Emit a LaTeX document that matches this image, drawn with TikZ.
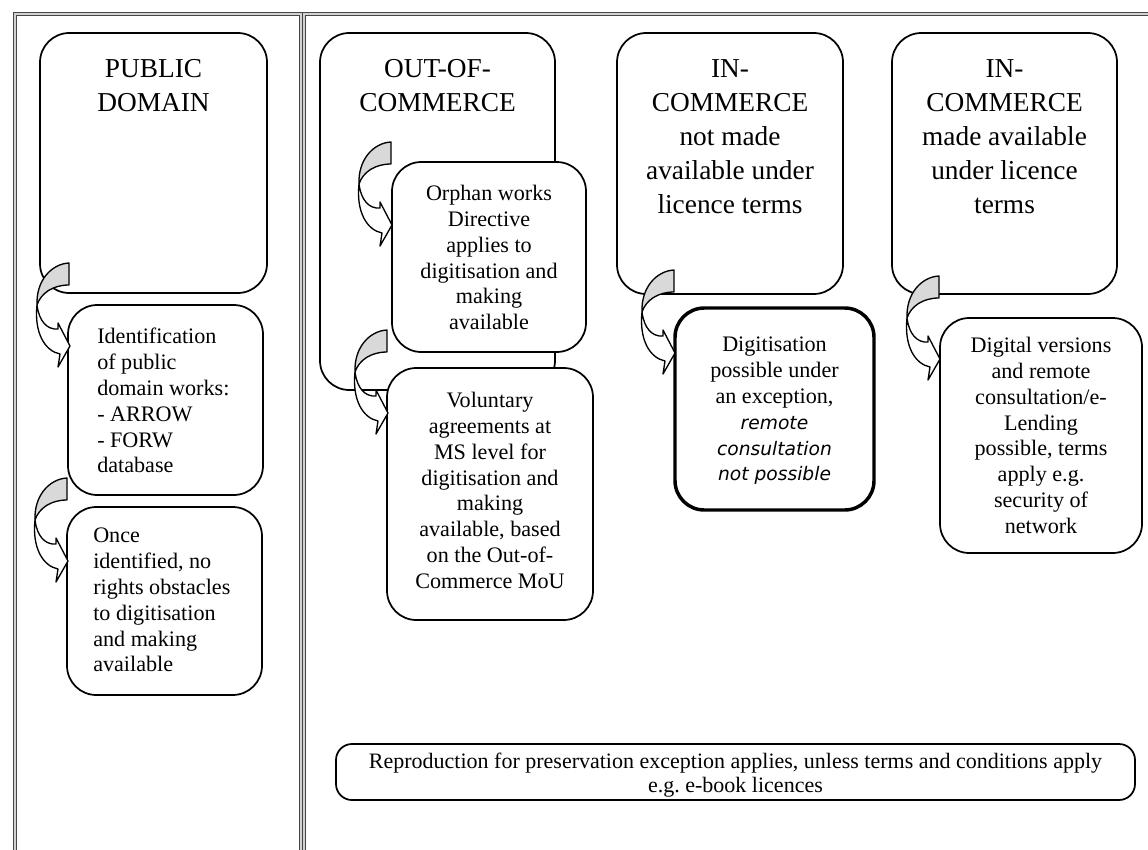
\documentclass[tikz,border=0pt]{standalone}
\usepackage{fontspec}
\setmainfont{Liberation Serif}
\newfontfamily\notefont{DejaVu Sans}
\usetikzlibrary{fit}
\begin{document}
\begin{tikzpicture}[x=0.75pt,y=-0.75pt,
  frame/.style={draw=gray!55!black, double=gray!35, line width=0.5pt, double distance=1.3pt},
  panel/.style={draw=black, line width=1.3pt, rounded corners=22pt, fill=white, inner sep=0pt},
  heavypanel/.style={panel, line width=2.6pt},
  flatpanel/.style={panel, rounded corners=12pt},
  title/.style={anchor=north, inner sep=0pt, align=center, font=\fontsize{20.5}{25.5}\selectfont},
  bodyc/.style={anchor=north, inner sep=0pt, align=center, font=\fontsize{16.6}{19.35}\selectfont},
  bodyl/.style={anchor=north west, inner sep=0pt, align=left, font=\fontsize{16.6}{19.35}\selectfont},
  curvarrow/.pic={
    % front face of the bent arrow, ending in the head
    \filldraw[fill=white, line width=1pt, line join=round]
      (-32,42) .. controls (-35,70) and (-24,88) .. (-9,91)
      -- (-11,104) -- (1,83) -- (-11,60) -- (-11,66)
      .. controls (-22,67) and (-30,58) .. cycle;
    % shaded back face at the tail
    \filldraw[fill=gray!30, line width=1pt, line join=round]
      (0,0) -- (0,22) .. controls (-16,22) and (-28,30) .. (-32,42)
      .. controls (-33,18) and (-18,1) .. cycle;
  }]
\useasboundingbox (0,0) rectangle (1148,849);
\clip (0,0) rectangle (1148,849);

% two framed columns
\draw[frame] (15,880) -- (15,14) -- (301,14) -- (301,880);
\draw[frame] (304,880) -- (304,14) -- (1180,14);

% category boxes
\node[panel, fit={(40,33) (267,293)}] (pd) {};
\node[panel, fit={(320,33) (555,390)}] (ooc) {};
\node[panel, fit={(617,33) (843,294)}] (icn) {};
\node[panel, fit={(892,33) (1117,294)}] (icl) {};

\node[title] (pdt) at (153.5,59) {PUBLIC\\DOMAIN};
\node[title] (ooct) at (437.5,59) {OUT-OF-\\COMMERCE};
\node[title] (icnt) at (730,59) {IN-\\COMMERCE\\not made\\available under\\licence terms};
\node[title] (iclt) at (1004.5,59) {IN-\\COMMERCE\\made available\\under licence\\terms};

% consequence boxes
\node[panel, fit={(392,162) (586,352)}] (orph) {};
\node[panel, fit={(387,368) (593,620)}] (vol) {};
\node[panel, fit={(68,305) (263,495)}] (ident) {};
\node[panel, fit={(67,507) (262,695)}] (once) {};
\node[heavypanel, fit={(675,308) (874,510)}] (exc) {};
\node[panel, fit={(940,318) (1142,553)}] (lic) {};
\node[flatpanel, fit={(336,744) (1135,800)}] (pres) {};

% bent arrows leading from each category to its consequence
\pic (a1) at (69,263) {curvarrow};
\pic (a2) at (67,478) {curvarrow};
\pic (a3) at (391,142) {curvarrow};
\pic (a4) at (387,330) {curvarrow};
\pic (a5) at (674,270) {curvarrow};
\pic (a6) at (939,276) {curvarrow};

% texts of the consequence boxes
\node[bodyl] (identt) at (97,328) {Identification\\of public\\domain works:\\- ARROW\\- FORW\\database};
\node[bodyl] (oncet) at (93,528) {Once\\identified, no\\rights obstacles\\to digitisation\\and making\\available};
\node[bodyc] (orpht) at (489,185) {Orphan works\\Directive\\applies to\\digitisation and\\making\\available};
\node[bodyc] (volt) at (490,392) {Voluntary\\agreements at\\MS level for\\digitisation and\\making\\available, based\\on the Out-of-\\Commerce MoU};
\node[bodyc] (exct) at (774.5,337) {Digitisation\\possible under\\an exception,\\{\notefont\itshape\fontsize{14}{19.35}\selectfont remote}\\{\notefont\itshape\fontsize{14}{19.35}\selectfont consultation}\\{\notefont\itshape\fontsize{14}{19.35}\selectfont not possible}};
\node[bodyc] (lict) at (1041,337) {Digital versions\\and remote\\consultation/e-\\Lending\\possible, terms\\apply e.g.\\security of\\network};
\node[bodyc, font=\fontsize{16.5}{17.5}\selectfont] (prest) at (735.5,753) {Reproduction for preservation exception applies, unless terms and conditions apply\\e.g.\ e-book licences};
\end{tikzpicture}
\end{document}
